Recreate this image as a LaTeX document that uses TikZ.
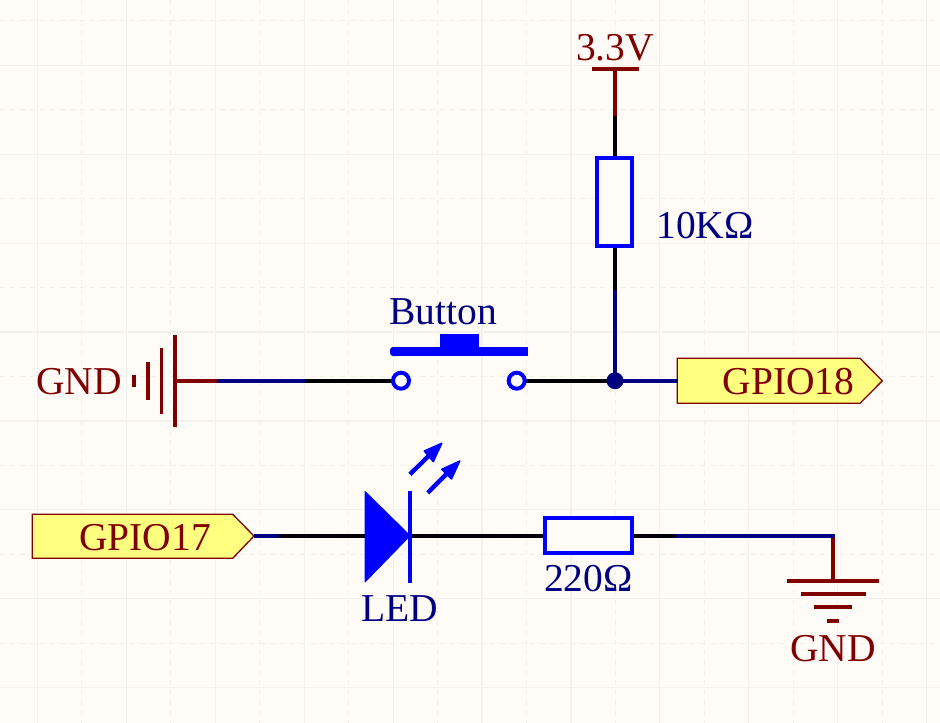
\documentclass[tikz,border=0pt]{standalone}
\usepackage{fontspec}
\setmainfont{Liberation Serif}
\definecolor{paper}{HTML}{FFFCF8}
\definecolor{gridc}{HTML}{F2F1EC}
\definecolor{sheetmaroon}{HTML}{800000}
\definecolor{sheetnavy}{HTML}{000080}
\definecolor{sheetblue}{HTML}{0000FF}
\definecolor{portfill}{HTML}{FFFF80}
\tikzset{
  gridsolid/.style={gridc,line width=1.2pt},
  griddash/.style={gridc,line width=1pt,dash pattern=on 5pt off 5pt},
  wireblack/.style={black,line width=4pt},
  wirenavy/.style={sheetnavy,line width=4pt},
  powerline/.style={sheetmaroon,line width=4pt},
  bodyline/.style={sheetblue,line width=4pt},
  arrowshaft/.style={sheetblue,line width=4.4pt},
  arrowtipshape/.style={fill=sheetblue,draw=sheetblue,line width=1.5pt,line join=round},
  labelnavy/.style={text=sheetnavy,anchor=base,inner sep=0pt,font=\fontsize{39.5}{40}\selectfont},
  labelmaroon/.style={text=sheetmaroon,anchor=base,inner sep=0pt,font=\fontsize{39.5}{40}\selectfont},
  portshape/.style={draw=sheetmaroon,fill=portfill,line width=1.3pt,line join=miter},
}
\begin{document}
\begin{tikzpicture}[x=1pt,y=-1pt]
\useasboundingbox (0,0) rectangle (940,723);
\fill[paper] (0,0) rectangle (940,723);
% grid
\foreach \k in {0,...,10}{
  \draw[griddash] ({81.9+88.9*(\k)},0) -- ({81.9+88.9*(\k)},723);
  \draw[gridsolid] ({37.5+88.9*(\k)},0) -- ({37.5+88.9*(\k)},723);
}
\foreach \k in {0,...,7}{
  \draw[griddash] (0,{20.9+88.9*(\k)}) -- (940,{20.9+88.9*(\k)});
  \draw[gridsolid] (0,{65.3+88.9*(\k)}) -- (940,{65.3+88.9*(\k)});
}
% named points
\coordinate (gndL) at (175,380.7);
\coordinate (gndLa) at (217,380.7);
\coordinate (gndLb) at (305,380.7);
\coordinate (swL) at (401,380.7);
\coordinate (swR) at (516.7,380.7);
\coordinate (junc) at (615,380.7);
\coordinate (pinA) at (615,290);
\coordinate (r1B) at (615,245.5);
\coordinate (r1T) at (615,158);
\coordinate (pwrB) at (615,115.5);
\coordinate (pwrT) at (615,69);
\coordinate (ledK) at (410,535.7);
\coordinate (r2L) at (545,535.7);
\coordinate (r2R) at (632,535.7);
\coordinate (w2) at (675,535.7);
\coordinate (cornerG) at (834.8,535.7);
\coordinate (gndBt) at (833,538);
\coordinate (gndBb) at (833,581);
\coordinate (p17b) at (279,535.7);
% ports
\draw[portshape] (677.3,358.3) -- (860,358.3) -- (882.3,380.8) -- (860,403.3) -- (677.3,403.3) -- cycle;
\draw[portshape] (32.3,514.3) -- (232.7,514.3) -- (254,536) -- (232.7,558.3) -- (32.3,558.3) -- cycle;
\coordinate (p18) at (678,380.7);
\coordinate (p17) at (254,535.7);
% wires
\draw[powerline] (gndL) -- (gndLa);
\draw[wirenavy] (gndLa) -- (gndLb);
\draw[wireblack] (gndLb) -- (swL);
\draw[wireblack] (swR) -- (junc);
\draw[wirenavy] (junc) -- (p18);
\draw[wirenavy] (junc) -- (pinA);
\draw[wireblack] (pinA) -- (r1B);
\draw[wireblack] (r1T) -- (pwrB);
\draw[powerline] (pwrB) -- (pwrT);
\draw[wirenavy] (p17) -- (p17b);
\draw[wireblack] (p17b) -- (ledK);
\draw[wireblack] (ledK) -- (r2L);
\draw[wireblack] (r2R) -- (w2);
\draw[wirenavy] (w2) -- (cornerG);
\draw[powerline] (gndBt) -- (gndBb);
\fill[sheetnavy] (junc) circle (8.5);
% 3.3V bar
\draw[powerline] (592,69) -- (639,69);
% left GND symbol
\draw[powerline,line width=3.6pt] (175,335) -- (175,426.7);
\draw[powerline,line width=3.6pt] (161.3,348) -- (161.3,414);
\draw[powerline,line width=3.6pt] (148,362) -- (148,400);
\draw[powerline,line width=3.6pt] (134,375) -- (134,387);
% bottom GND symbol
\draw[powerline,line width=3.6pt] (787,581) -- (878.7,581);
\draw[powerline,line width=3.6pt] (801,594) -- (866,594);
\draw[powerline,line width=3.6pt] (814,607) -- (852,607);
\draw[powerline,line width=3.6pt] (827,621) -- (839,621);
% resistors
\draw[bodyline,fill=paper] (597,158) rectangle (632,245.5);
\draw[bodyline,fill=paper] (545,518) rectangle (632,553);
% button
\draw[bodyline,fill=paper] (swL) circle (8);
\draw[bodyline,fill=paper] (swR) circle (8);
\fill[sheetblue,rounded corners=3pt] (390,347) rectangle (400,356);
\fill[sheetblue] (394,347) rectangle (527.7,356);
\fill[sheetblue] (440,334) rectangle (479,347);
% LED
\fill[sheetblue,draw=sheetblue,line width=1pt,line join=round] (365,491.5) -- (410,535.7) -- (365,582) -- cycle;
\draw[bodyline] (410,491) -- (410,582.7);
\draw[arrowshaft] (410,474.3) -- (430,454.5);
\draw[arrowtipshape] (441.8,443.2) -- (424.3,451) -- (433.3,461.7) -- cycle;
\draw[arrowshaft] (427.7,492.7) -- (447,473.5);
\draw[arrowtipshape] (459.8,461) -- (441.7,469.3) -- (451.5,479) -- cycle;
% labels
\node[labelmaroon] (lblpwr) at (615,60) {3.3V};
\node[labelmaroon] (lblgndL) at (79,394) {GND};
\node[labelmaroon] (lblgndB) at (833,661) {GND};
\node[labelmaroon] (lbl18) at (788.5,394) {GPIO18};
\node[labelmaroon] (lbl17) at (145,550) {GPIO17};
\node[labelnavy] (lblbtn) at (443,324) {Button};
\node[labelnavy] (lbl10k) at (705,238.5) {10KΩ};
\node[labelnavy] (lbl220) at (588.5,591) {220Ω};
\node[labelnavy] (lblled) at (400,621) {LED};
\end{tikzpicture}
\end{document}
